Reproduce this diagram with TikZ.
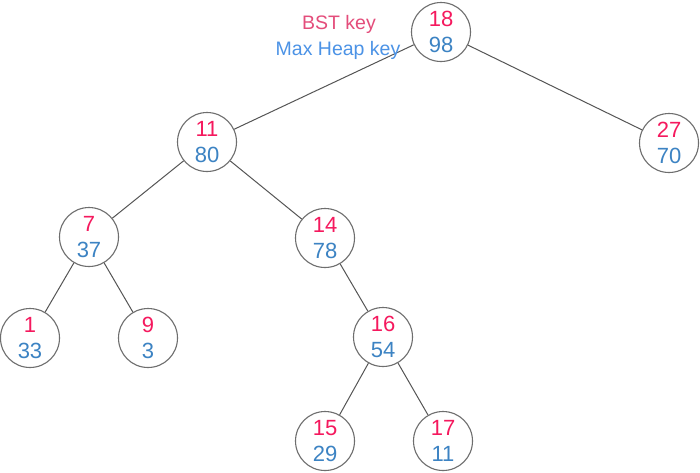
\documentclass[tikz,border=0pt]{standalone}
\usepackage{fontspec}
\setmainfont{Liberation Sans}
\usetikzlibrary{calc}
\definecolor{numred}{HTML}{F5195E}
\definecolor{numblue}{HTML}{3C83C3}
\definecolor{labred}{HTML}{E44D7B}
\definecolor{labblue}{HTML}{4C93E6}
\definecolor{edgegray}{HTML}{555555}
\definecolor{ringgray}{HTML}{6E6E6E}
\begin{document}
\begin{tikzpicture}[x=1pt,y=-1pt,
  vert/.style={circle,draw=ringgray,line width=1.1pt,minimum size=59pt,inner sep=0pt,fill=white},
  bstnum/.style={inner sep=0pt,text=numred,font=\fontsize{22}{26}\selectfont},
  heapnum/.style={inner sep=0pt,text=numblue,font=\fontsize{22}{26}\selectfont},
  edge/.style={draw=edgegray,line width=1pt},
  lab/.style={inner sep=0pt,font=\fontsize{19.5}{23}\selectfont}]
\useasboundingbox (0,0) rectangle (700,472);
\fill[white] (0,0) rectangle (700,472);
\newcommand{\bstvert}[4]{%
  \node[vert] (#1) at (#2) {};
  \node[bstnum] (#1b) at ($(#1)+(0,-13)$) {#3};
  \node[heapnum] (#1h) at ($(#1)+(0,13)$) {#4};}
\bstvert{n18}{441,32}{18}{98}
\bstvert{n11}{207,142}{11}{80}
\bstvert{n27}{669,143}{27}{70}
\bstvert{n7}{89,237}{7}{37}
\bstvert{n14}{325,238}{14}{78}
\bstvert{n1}{30,338}{1}{33}
\bstvert{n9}{148,338}{9}{3}
\bstvert{n16}{383,337}{16}{54}
\bstvert{n15}{325,441}{15}{29}
\bstvert{n17}{443,441}{17}{11}
\path[edge] (n18) -- (n11);
\path[edge] (n18) -- (n27);
\path[edge] (n11) -- (n7);
\path[edge] (n11) -- (n14);
\path[edge] (n7) -- (n1);
\path[edge] (n7) -- (n9);
\path[edge] (n14) -- (n16);
\path[edge] (n16) -- (n15);
\path[edge] (n16) -- (n17);
\node[lab,text=labred] (lbst) at (339,24) {BST key};
\node[lab,text=labblue] (lheap) at (338,50) {Max Heap key};
\end{tikzpicture}
\end{document}
